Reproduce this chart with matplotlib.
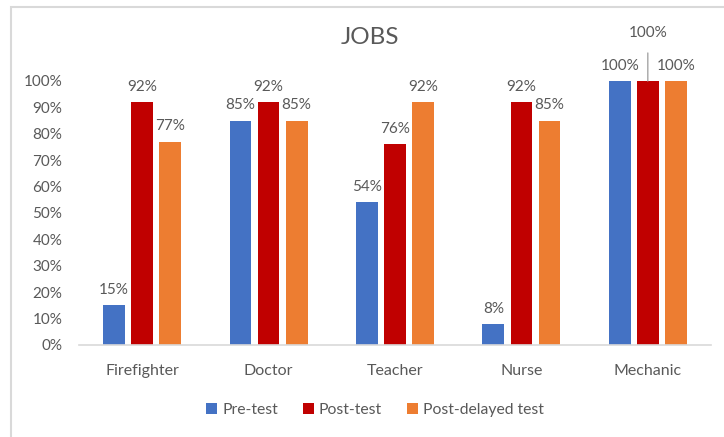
import matplotlib
matplotlib.use("Agg")
import matplotlib.pyplot as plt
import numpy as np
from matplotlib.patches import Rectangle

categories = ["Firefighter", "Doctor", "Teacher", "Nurse", "Mechanic"]
pre_test = [15, 85, 54, 8, 100]
post_test = [92, 92, 76, 92, 100]
post_delayed = [77, 85, 92, 85, 100]
series_names = ["Pre-test", "Post-test", "Post-delayed test"]
colors = ["#4472C4", "#C00000", "#ED7D31"]
yticks = list(range(0, 101, 10))

plt.rcParams['font.family'] = ['Lato', 'DejaVu Sans']
W, H = 724, 437
fig = plt.figure(figsize=(W/100, H/100), dpi=100)
fig.patch.set_facecolor("white")

# outer border
fig.patches.append(Rectangle((11/W, -0.05), 1.1, (H-7)/H + 0.05, transform=fig.transFigure,
                             fill=False, edgecolor="#D9D9D9", linewidth=1.5))

ax = fig.add_axes([79/W, 1-345/H, (711-79)/W, (345-81)/H])
x = np.arange(len(categories))
step = 0.222
bw = 0.172
txt = "#595959"
data = [pre_test, post_test, post_delayed]
for i, (vals, c, name) in enumerate(zip(data, colors, series_names)):
    xs = x + (i-1)*step
    ax.bar(xs, np.array(vals)/100, width=bw, color=c, label=name, zorder=2)
    for j, (xx, v) in enumerate(zip(xs, vals)):
        if categories[j] == "Mechanic" and i == 1:
            ax.annotate(f"{v}%", xy=(xx, v/100), xytext=(xx, v/100 + 0.18),
                        ha="center", va="center", fontsize=11, color=txt,
                        arrowprops=dict(arrowstyle="-", color="#A6A6A6", lw=1,
                                        shrinkA=7, shrinkB=0))
        else:
            ax.annotate(f"{v}%", xy=(xx, v/100), xytext=(0, 6), textcoords="offset points",
                        ha="center", va="bottom", fontsize=11, color=txt)

ax.set_xlim(-0.5, len(categories)-0.5)
ax.set_ylim(0, 1.0)
ax.set_yticks([t/100 for t in yticks])
ax.set_yticklabels([f"{t}%" for t in yticks])
ax.set_xticks(x)
ax.set_xticklabels(categories)
ax.tick_params(axis="y", length=0, labelsize=11, colors=txt, pad=12)
ax.tick_params(axis="x", length=0, labelsize=11.5, colors=txt, pad=14)
for s in ["top", "right", "left"]:
    ax.spines[s].set_visible(False)
ax.spines["bottom"].set_color("#D9D9D9")
ax.spines["bottom"].set_linewidth(1.2)

fig.text(370/W, 1-37/H, "JOBS", ha="center", va="center", fontsize=17.5, color=txt)

leg = fig.legend(loc="center", bbox_to_anchor=(375/W, 1-410/H), ncol=3, frameon=False,
                 fontsize=11.3, handlelength=0.7, handleheight=0.7, handletextpad=0.3,
                 columnspacing=1.6, labelcolor=txt)

fig.savefig("out.png", dpi=100)
